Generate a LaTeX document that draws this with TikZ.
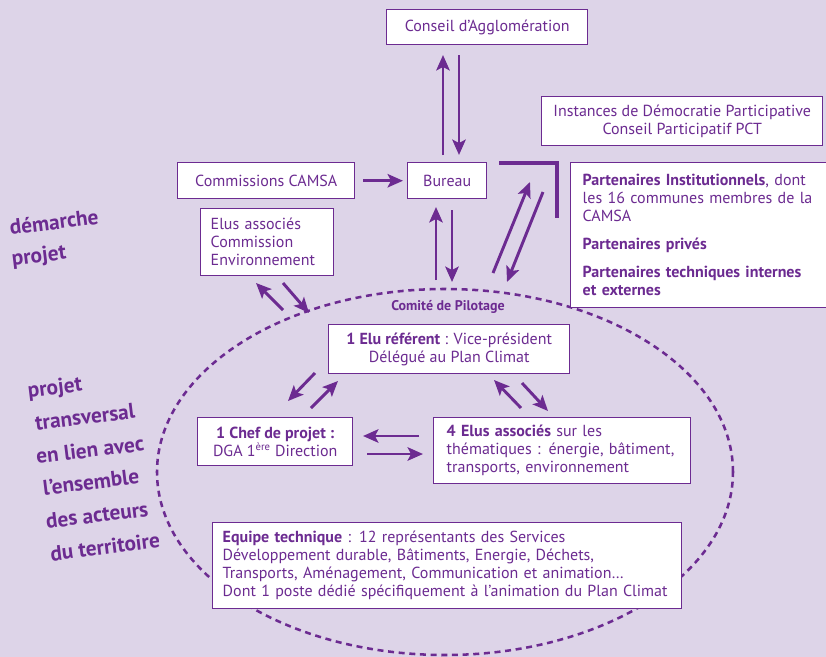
\documentclass[tikz,border=0pt]{standalone}
\usepackage{fontspec}
\setmainfont{PT Sans}
\usetikzlibrary{arrows.meta}
\definecolor{bg}{RGB}{221,212,232}
\definecolor{pur}{RGB}{108,43,145}
\begin{document}
\begin{tikzpicture}[x=0.75pt,y=-0.75pt,
 box/.style={draw=pur, line width=1.1pt, fill=white, text=pur, inner sep=0pt, anchor=north west,
   font=\fontsize{12}{13.5}\selectfont},
 cbox/.style={box, align=center},
 lbox/.style={box, align=left},
 arr/.style={draw=pur, line width=2.2pt, -{Stealth[length=11.5pt,width=10pt,inset=2.5pt]}},
 side/.style={text=pur, font=\bfseries\fontsize{16}{18}\selectfont, rotate=7},
]
\clip (0,0) rectangle (826,657);
\fill[bg] (0,0) rectangle (826,657);

% dashed ellipse (Comite de Pilotage)
\draw[pur, line width=1.9pt, dash pattern=on 4.5pt off 3.5pt] (445,472) ellipse [x radius=216pt, y radius=137.25pt];

% boxes
\node[cbox, minimum width=201*0.75pt, minimum height=35*0.75pt] (conseil) at (386,9) {Conseil d’Agglomération};
\node[cbox, minimum width=281*0.75pt, minimum height=49*0.75pt] (instances) at (541,96) {Instances de Démocratie Participative\\Conseil Participatif PCT};
\node[cbox, minimum width=177*0.75pt, minimum height=36*0.75pt] (comm) at (177,162) {Commissions CAMSA};
\node[cbox, minimum width=79*0.75pt, minimum height=36*0.75pt] (bureau) at (407,162) {Bureau};
\node[lbox, inner xsep=12*0.75pt, text width=246*0.75pt, minimum height=145*0.75pt] (part) at (570,162)
 {\textbf{Partenaires Institutionnels}, dont\\les 16 communes membres de la\\CAMSA\\[7.5pt]
  \textbf{Partenaires privés}\\[7.5pt]
  \textbf{Partenaires techniques internes}\\\textbf{et externes}};
\node[lbox, inner xsep=10*0.75pt, text width=113*0.75pt, minimum height=67*0.75pt] (eluscomm) at (200,208)
 {Elus associés\\Commission\\Environnement};
\node[cbox, minimum width=241*0.75pt, minimum height=49*0.75pt] (eluref) at (328,324)
 {\textbf{1 Elu référent} : Vice-président\\Délégué au Plan Climat};
\node[cbox, minimum width=155*0.75pt, minimum height=48*0.75pt] (chef) at (197,417)
 {\textbf{1 Chef de projet :}\\DGA 1\textsuperscript{ère} Direction};
\node[lbox, inner xsep=13*0.75pt, text width=231*0.75pt, minimum height=66*0.75pt] (quatre) at (433,417)
 {\textbf{4 Elus associés} sur les\\thématiques : énergie, bâtiment,\\transports, environnement};
\node[lbox, inner xsep=8*0.75pt, text width=453*0.75pt, minimum height=86*0.75pt] (equipe) at (212,522)
 {\hspace*{1.5pt}\textbf{Equipe technique} : 12 représentants des Services\\\hspace*{1.5pt}Développement durable, Bâtiments, Energie, Déchets,\\\hspace*{1.5pt}Transports, Aménagement, Communication et animation…\\\hspace*{1.5pt}Dont 1 poste dédié spécifiquement à l’animation du Plan Climat};

\node[text=pur, font=\bfseries\fontsize{10.5}{11}\selectfont] (comite) at (448,307) {Comité de Pilotage};

% corner bracket
\draw[pur, line width=2.6pt] (499,163) -- (557,163) -- (557,218);

% side texts
\node[side] (t1) at (54,222) {démarche};
\node[side] (t2) at (39,257) {projet};
\node[side] (s1) at (55,389) {projet};
\node[side] (s2) at (85,417) {transversal};
\node[side] (s3) at (90,450) {en lien avec};
\node[side] (s4) at (91,482) {l’ensemble};
\node[side] (s5) at (97,515) {des acteurs};
\node[side] (s6) at (105,547) {du territoire};

% arrow end points
\coordinate (a1s) at (443,155); \coordinate (a1e) at (443,55);
\coordinate (a2s) at (459,55);  \coordinate (a2e) at (459,155);
\coordinate (b1s) at (436,280); \coordinate (b1e) at (436,207);
\coordinate (b2s) at (452,210); \coordinate (b2e) at (452,282);
\coordinate (d1s) at (493,273); \coordinate (d1e) at (530,182);
\coordinate (d2s) at (543,192); \coordinate (d2e) at (507,282);
\coordinate (e1s) at (283,310); \coordinate (e1e) at (256,283);
\coordinate (e2s) at (283,283); \coordinate (e2e) at (309,313);
\coordinate (f1s) at (315,373); \coordinate (f1e) at (288,401);
\coordinate (f2s) at (311,408); \coordinate (f2e) at (338,381);
\coordinate (g1s) at (521,408); \coordinate (g1e) at (494,380);
\coordinate (g2s) at (522,383); \coordinate (g2e) at (548,411);
\coordinate (h1s) at (419,436); \coordinate (h1e) at (363,436);
\coordinate (h2s) at (367,454); \coordinate (h2e) at (423,454);

\draw[arr] (a1s) -- (a1e);
\draw[arr] (a2s) -- (a2e);
\draw[arr, shorten <=6pt, shorten >=3pt] (comm) -- (bureau);
\draw[arr] (b1s) -- (b1e);
\draw[arr] (b2s) -- (b2e);
\draw[arr] (d1s) -- (d1e);
\draw[arr] (d2s) -- (d2e);
\draw[arr] (e1s) -- (e1e);
\draw[arr] (e2s) -- (e2e);
\draw[arr] (f1s) -- (f1e);
\draw[arr] (f2s) -- (f2e);
\draw[arr] (g1s) -- (g1e);
\draw[arr] (g2s) -- (g2e);
\draw[arr] (h1s) -- (h1e);
\draw[arr] (h2s) -- (h2e);
\end{tikzpicture}
\end{document}
